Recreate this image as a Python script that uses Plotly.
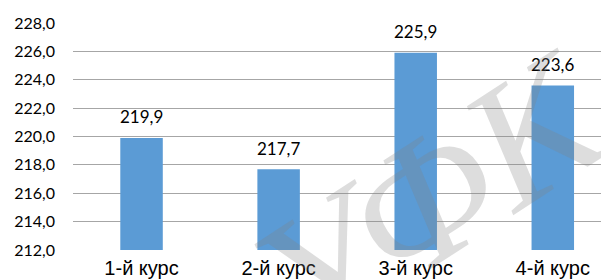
import plotly.graph_objects as go

categories = ["1-й курс", "2-й курс", "3-й курс", "4-й курс"]
values = [219.9, 217.7, 225.9, 223.6]
y_ticks = [212, 214, 216, 218, 220, 222, 224, 226, 228]

fig = go.Figure()
fig.add_trace(go.Bar(
    x=categories, y=values,
    marker=dict(color="#5B9BD5", line=dict(width=0)),
    width=0.31,
    hoverinfo="x+y",
))

# value labels above bars
for c, v in zip(categories, values):
    fig.add_annotation(
        x=c, y=v, xref="x", yref="y",
        text=f"{v:.1f}".replace(".", ","),
        showarrow=False, yshift=21, yanchor="middle",
        font=dict(family="Lato, Liberation Sans, sans-serif", size=17, color="#000000"),
    )

fig.add_annotation(
    text="УФК", x=0.665, y=0.23, xref="paper", yref="paper",
    xanchor="center", yanchor="middle",
    showarrow=False, textangle=-33,
    font=dict(family="Liberation Serif, serif", size=178,
              color="rgba(128,128,128,0.27)", style="italic"),
)

# page body has an 8px default margin; size the figure to fill the 609x280 window
fig.update_layout(
    width=601, height=272,
    margin=dict(l=65, r=0, t=15, b=30, autoexpand=False),
    paper_bgcolor="white", plot_bgcolor="white",
    separators=", ",
    showlegend=False,
    xaxis=dict(
        range=[-0.5, 3.41], automargin=False,
        showgrid=False, showline=False, ticks="",
        ticklabelstandoff=4,
        tickfont=dict(family="Liberation Sans, Arial, sans-serif", size=20, color="#000000"),
    ),
    yaxis=dict(
        range=[212, 228], tickvals=y_ticks, tickformat=".1f", automargin=False,
        showgrid=True, gridcolor="#a6a6a6", gridwidth=1,
        zeroline=False, showline=False, ticks="",
        ticklabelstandoff=17,
        tickfont=dict(family="Lato, Liberation Sans, sans-serif", size=16, color="#000000"),
    ),
)

fig.write_html("out.html")
